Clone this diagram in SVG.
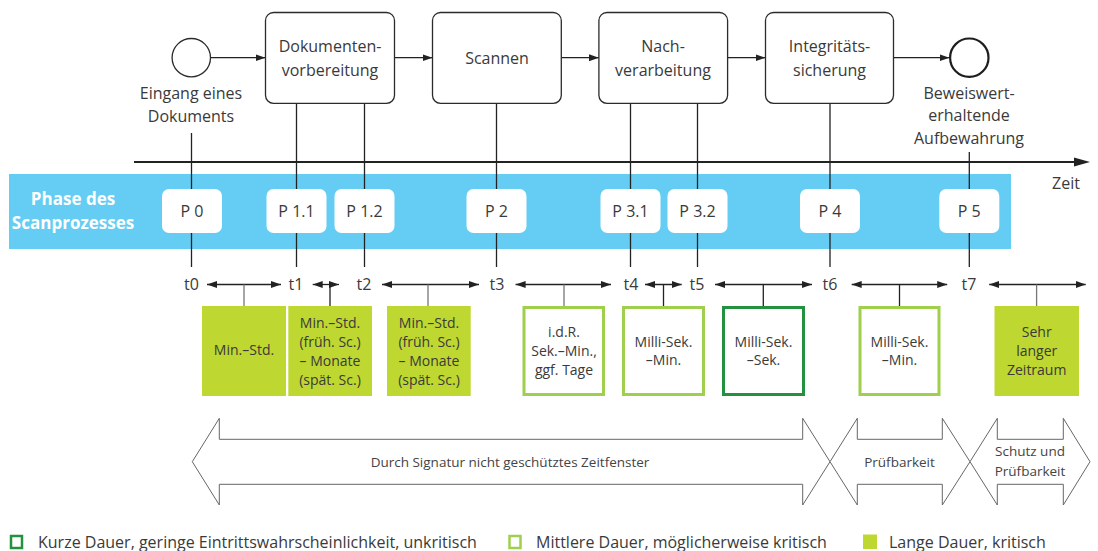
<svg xmlns="http://www.w3.org/2000/svg" width="1098" height="551" viewBox="0 0 1098 551">
<style>
text{font-family:"Open Sans","Liberation Sans",sans-serif;fill:#3a3a3a;text-anchor:middle}
.lbl{font-size:16px}
.sm{font-size:14px}
.ar{font-size:13.5px;fill:#444}
.leg{font-size:16px;text-anchor:start}
.proc{fill:#fff;stroke:#2b2b2b;stroke-width:1.3}
.ln{stroke:#222;stroke-width:1.3;fill:none}
.lg{stroke:#777;stroke-width:1.3;fill:none}
.pb{fill:#fff}
.fill{fill:#bfd731}
.mid{fill:#fff;stroke:#9fcf4c;stroke-width:3}
.short{fill:#fff;stroke:#24913e;stroke-width:3}
.big{fill:#fff;stroke:#666;stroke-width:1}
</style>
<defs>
<marker id="ah" markerUnits="userSpaceOnUse" markerWidth="11" markerHeight="8" refX="10" refY="4" orient="auto-start-reverse">
<path d="M0,0.5 L10,4 L0,7.5 Z" fill="#222"/>
</marker>
</defs>

<!-- time axis -->
<g id="axis">
<line x1="134" y1="162" x2="1078" y2="162" stroke="#222" stroke-width="2"/>
<polygon points="1074,157.5 1090,162 1074,166.5" fill="#222"/>
<text class="lbl" x="1066" y="189">Zeit</text>
</g>

<!-- phase band -->
<g id="band">
<rect x="9" y="174" width="1002" height="75" fill="#65cdf3"/>
<text x="73" y="205" style="font-size:17px;font-weight:bold;fill:#fff">Phase des</text>
<text x="73" y="229" style="font-size:17px;font-weight:bold;fill:#fff">Scanprozesses</text>
</g>

<!-- connectors -->
<g id="connectors">
<line class="ln" x1="210.5" y1="57.7" x2="265.5" y2="57.7" marker-end="url(#ah)"/>
<line class="ln" x1="394.6" y1="57.7" x2="432.5" y2="57.7" marker-end="url(#ah)"/>
<line class="ln" x1="561.3" y1="57.7" x2="598.9" y2="57.7" marker-end="url(#ah)"/>
<line class="ln" x1="727.6" y1="57.7" x2="765.5" y2="57.7" marker-end="url(#ah)"/>
<line class="ln" x1="893.5" y1="57.7" x2="949.5" y2="57.7" marker-end="url(#ah)"/>
<!-- verticals -->
<line class="ln" x1="191.5" y1="133" x2="191.5" y2="267"/>
<line class="ln" x1="296.5" y1="103.3" x2="296.5" y2="267"/>
<line class="ln" x1="364.5" y1="103.3" x2="364.5" y2="267"/>
<line class="ln" x1="496.5" y1="103.3" x2="496.5" y2="267"/>
<line class="ln" x1="630.5" y1="103.3" x2="630.5" y2="267"/>
<line class="ln" x1="697.5" y1="103.3" x2="697.5" y2="267"/>
<line class="ln" x1="830" y1="103.3" x2="830" y2="267"/>
<line class="ln" x1="969.3" y1="152" x2="969.3" y2="267"/>
<!-- duration arrows -->
<line class="ln" x1="207" y1="284.5" x2="281" y2="284.5" marker-start="url(#ah)" marker-end="url(#ah)"/>
<line class="ln" x1="312.7" y1="284.5" x2="339" y2="284.5" marker-start="url(#ah)" marker-end="url(#ah)"/>
<line class="ln" x1="382" y1="284.5" x2="479" y2="284.5" marker-start="url(#ah)" marker-end="url(#ah)"/>
<line class="ln" x1="515.6" y1="284.5" x2="611" y2="284.5" marker-start="url(#ah)" marker-end="url(#ah)"/>
<line class="ln" x1="645" y1="284.5" x2="681.7" y2="284.5" marker-start="url(#ah)" marker-end="url(#ah)"/>
<line class="ln" x1="715" y1="284.5" x2="812" y2="284.5" marker-start="url(#ah)" marker-end="url(#ah)"/>
<line class="ln" x1="851.7" y1="284.5" x2="947.2" y2="284.5" marker-start="url(#ah)" marker-end="url(#ah)"/>
<line class="ln" x1="989.2" y1="284.5" x2="1085.7" y2="284.5" marker-start="url(#ah)" marker-end="url(#ah)"/>
<!-- drops to boxes -->
<line class="lg" x1="244" y1="284.5" x2="244" y2="306"/>
<line class="ln" x1="330" y1="284.5" x2="330" y2="306"/>
<line class="lg" x1="428" y1="284.5" x2="428" y2="306"/>
<line class="lg" x1="564" y1="284.5" x2="564" y2="306"/>
<line class="ln" x1="663.5" y1="284.5" x2="663.5" y2="306"/>
<line class="ln" x1="763.3" y1="284.5" x2="763.3" y2="306"/>
<line class="ln" x1="899.5" y1="284.5" x2="899.5" y2="306"/>
<line class="lg" x1="1036.6" y1="284.5" x2="1036.6" y2="306"/>
</g>

<!-- process nodes -->
<g id="start">
<circle cx="191.3" cy="57.7" r="19.2" fill="#fff" stroke="#2b2b2b" stroke-width="1.3"/>
<text class="lbl" x="191" y="99">Eingang eines</text>
<text class="lbl" x="191" y="122">Dokuments</text>
</g>
<g id="doc">
<rect class="proc" x="265.5" y="12.5" width="129" height="90.8" rx="8"/>
<text class="lbl" x="330" y="52">Dokumenten-</text>
<text class="lbl" x="330" y="75.5">vorbereitung</text>
</g>
<g id="scan">
<rect class="proc" x="432.5" y="12.5" width="128.8" height="90.8" rx="8"/>
<text class="lbl" x="497" y="64">Scannen</text>
</g>
<g id="nach">
<rect class="proc" x="598.9" y="12.5" width="128.7" height="90.8" rx="8"/>
<text class="lbl" x="663" y="52">Nach-</text>
<text class="lbl" x="663" y="75.5">verarbeitung</text>
</g>
<g id="integ">
<rect class="proc" x="765.5" y="12.5" width="128" height="90.8" rx="8"/>
<text class="lbl" x="829.5" y="52">Integritäts-</text>
<text class="lbl" x="829.5" y="75.5">sicherung</text>
</g>
<g id="end">
<circle cx="969.3" cy="57.7" r="19.2" fill="#fff" stroke="#1e1e1e" stroke-width="2.2"/>
<text class="lbl" x="969" y="99">Beweiswert-</text>
<text class="lbl" x="969" y="121">erhaltende</text>
<text class="lbl" x="969" y="144">Aufbewahrung</text>
</g>

<!-- phase boxes -->
<g id="p0"><rect class="pb" x="162" y="189" width="60" height="44" rx="7"/><text class="lbl" x="192" y="216.5">P 0</text></g>
<g id="p11"><rect class="pb" x="266.5" y="189" width="60" height="44" rx="7"/><text class="lbl" x="296.5" y="216.5">P 1.1</text></g>
<g id="p12"><rect class="pb" x="334.5" y="189" width="60" height="44" rx="7"/><text class="lbl" x="364.5" y="216.5">P 1.2</text></g>
<g id="p2"><rect class="pb" x="466.5" y="189" width="60" height="44" rx="7"/><text class="lbl" x="496.5" y="216.5">P 2</text></g>
<g id="p31"><rect class="pb" x="600.5" y="189" width="60" height="44" rx="7"/><text class="lbl" x="630.5" y="216.5">P 3.1</text></g>
<g id="p32"><rect class="pb" x="667.5" y="189" width="60" height="44" rx="7"/><text class="lbl" x="697.5" y="216.5">P 3.2</text></g>
<g id="p4"><rect class="pb" x="800" y="189" width="60" height="44" rx="7"/><text class="lbl" x="830" y="216.5">P 4</text></g>
<g id="p5"><rect class="pb" x="939.3" y="189" width="60" height="44" rx="7"/><text class="lbl" x="969.3" y="216.5">P 5</text></g>

<!-- time labels -->
<g id="tlabels">
<text class="lbl" x="191.5" y="290">t0</text>
<text class="lbl" x="296" y="290">t1</text>
<text class="lbl" x="364" y="290">t2</text>
<text class="lbl" x="497" y="290">t3</text>
<text class="lbl" x="631" y="290">t4</text>
<text class="lbl" x="697" y="290">t5</text>
<text class="lbl" x="830" y="290">t6</text>
<text class="lbl" x="969" y="290">t7</text>
</g>

<!-- duration boxes -->
<g id="d1"><rect class="fill" x="202" y="306" width="84" height="90"/><text class="sm" x="244" y="355">Min.–Std.</text></g>
<g id="d2"><rect class="fill" x="288.3" y="306" width="83.7" height="90"/>
<text class="sm" x="330" y="327.5">Min.–Std.</text><text class="sm" x="330" y="346.5">(früh. Sc.)</text><text class="sm" x="330" y="365.5">– Monate</text><text class="sm" x="330" y="384.5">(spät. Sc.)</text></g>
<g id="d3"><rect class="fill" x="387" y="306" width="83.7" height="90"/>
<text class="sm" x="429" y="327.5">Min.–Std.</text><text class="sm" x="429" y="346.5">(früh. Sc.)</text><text class="sm" x="429" y="365.5">– Monate</text><text class="sm" x="429" y="384.5">(spät. Sc.)</text></g>
<g id="d4"><rect class="mid" x="524" y="307.5" width="79.5" height="87"/>
<text class="sm" x="564" y="336.5">i.d.R.</text><text class="sm" x="564" y="355.5">Sek.–Min.,</text><text class="sm" x="564" y="375">ggf. Tage</text></g>
<g id="d5"><rect class="mid" x="623.5" y="307.5" width="80" height="87"/>
<text class="sm" x="663.5" y="346.5">Milli-Sek.</text><text class="sm" x="663.5" y="365">–Min.</text></g>
<g id="d6"><rect class="short" x="723.5" y="307.5" width="80" height="87"/>
<text class="sm" x="763.5" y="346.5">Milli-Sek.</text><text class="sm" x="763.5" y="365">–Sek.</text></g>
<g id="d7"><rect class="mid" x="860" y="307.5" width="79" height="87"/>
<text class="sm" x="899.5" y="346.5">Milli-Sek.</text><text class="sm" x="899.5" y="365">–Min.</text></g>
<g id="d8"><rect class="fill" x="994.5" y="306" width="84.5" height="90"/>
<text class="sm" x="1036.7" y="336.5">Sehr</text><text class="sm" x="1036.7" y="355.5">langer</text><text class="sm" x="1036.7" y="375">Zeitraum</text></g>

<!-- big arrows -->
<g id="a1">
<polygon class="big" points="192.3,461.7 219.3,418.3 219.3,439.3 802.7,439.3 802.7,418.3 830,461.7 802.7,505 802.7,484.3 219.3,484.3 219.3,505"/>
<text class="ar" x="510" y="466.5">Durch Signatur nicht geschütztes Zeitfenster</text>
</g>
<g id="a2">
<polygon class="big" points="830,461.7 857.3,418.3 857.3,439.3 942.3,439.3 942.3,418.3 970,461.7 942.3,505 942.3,484.3 857.3,484.3 857.3,505"/>
<text class="ar" x="899.5" y="466.5">Prüfbarkeit</text>
</g>
<g id="a3">
<polygon class="big" points="970,461.7 997.3,418.3 997.3,439.3 1063.3,439.3 1063.3,418.3 1090,461.7 1063.3,505 1063.3,484.3 997.3,484.3 997.3,505"/>
<text class="ar" x="1030" y="456">Schutz und</text>
<text class="ar" x="1030" y="476">Prüfbarkeit</text>
</g>

<!-- legend -->
<g id="legend">
<rect x="11" y="536" width="11" height="12" fill="#fff" stroke="#24913e" stroke-width="2.5"/>
<text class="leg" x="38" y="548">Kurze Dauer, geringe Eintrittswahrscheinlichkeit, unkritisch</text>
<rect x="509.5" y="536" width="11" height="12" fill="#fff" stroke="#9fcf4c" stroke-width="2.5"/>
<text class="leg" x="536" y="548">Mittlere Dauer, möglicherweise kritisch</text>
<rect x="863" y="534.5" width="14" height="14.5" fill="#bfd731"/>
<text class="leg" x="889" y="548">Lange Dauer, kritisch</text>
</g>
</svg>
